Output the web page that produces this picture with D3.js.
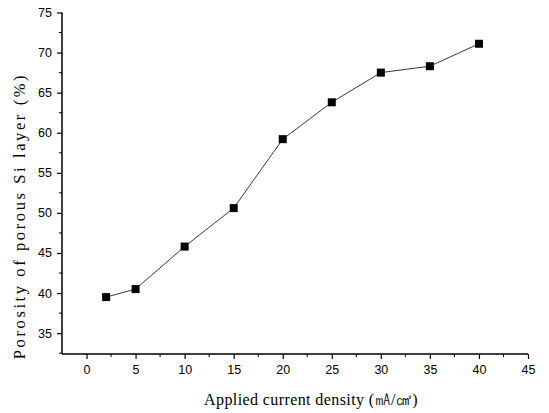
<!DOCTYPE html>
<html><head><meta charset="utf-8">
<script src="https://cdn.jsdelivr.net/npm/d3@7"></script>
<style>body{margin:0;background:#fff}svg{display:block}</style>
</head><body>
<svg id="c" width="549" height="413"></svg>
<script>
const currentDensity = [2, 5, 10, 15, 20, 25, 30, 35, 40];
const porosity = [39.5, 40.5, 45.8, 50.6, 59.2, 63.8, 67.5, 68.3, 71.1];
const xTicks = [0, 5, 10, 15, 20, 25, 30, 35, 40, 45];
const yTicks = [35, 40, 45, 50, 55, 60, 65, 70, 75];
const xLabel = "Applied current density (㎃/㎠)";
const yLabel = "Porosity of porous Si layer (%)";

const svg = d3.select("#c");
const x = d3.scaleLinear().domain([-2.5, 45]).range([62, 528]);
const y = d3.scaleLinear().domain([32.4, 75]).range([354, 12.5]);

const xMinor = d3.range(-2.5, 45.01, 2.5).filter(v => !xTicks.includes(v) && v > -2.5);
const yMinor = d3.range(32.5, 75.01, 2.5).filter(v => !yTicks.includes(v));

const gx = svg.append("g").attr("transform", "translate(0,354)")
  .call(d3.axisBottom(x).tickValues(xTicks).tickSize(5).tickPadding(6).tickFormat(d3.format("d")));
gx.append("g").selectAll("line").data(xMinor).join("line")
  .attr("x1", d => x(d)).attr("x2", d => x(d)).attr("y1", 0).attr("y2", 3).attr("stroke", "#000");
const gy = svg.append("g").attr("transform", "translate(62,0)")
  .call(d3.axisLeft(y).tickValues(yTicks).tickSize(5).tickPadding(5).tickFormat(d3.format("d")));
gy.append("g").selectAll("line").data(yMinor).join("line")
  .attr("y1", d => y(d)).attr("y2", d => y(d)).attr("x1", 0).attr("x2", -3).attr("stroke", "#000");
[gx, gy].forEach(g => {
  g.select(".domain").attr("stroke", "#000").attr("stroke-width", 1.5);
  g.selectAll(".tick line").attr("stroke", "#000").attr("stroke-width", 1.2);
  g.selectAll("text").attr("font-family", "Liberation Sans, Arial, sans-serif").attr("font-size", 12.5).attr("fill", "#000");
});
gx.select(".domain").attr("d", `M${x(-2.5)},0H${x(45)}`);
gy.select(".domain").attr("d", `M0,${y(32.4)}V${y(75)}`);

const line = d3.line().x((d, i) => x(currentDensity[i])).y(d => y(d));
svg.append("path").datum(porosity).attr("d", line)
  .attr("fill", "none").attr("stroke", "#222").attr("stroke-width", 0.9);
svg.append("g").selectAll("rect").data(porosity).join("rect")
  .attr("x", (d, i) => x(currentDensity[i]) - 4).attr("y", d => y(d) - 4)
  .attr("width", 8).attr("height", 8).attr("fill", "#000");

svg.append("text").attr("x", 311).attr("y", 405).attr("text-anchor", "middle")
  .attr("font-family", "Liberation Serif, Times New Roman, serif").attr("font-size", 16)
  .attr("letter-spacing", 0.4)
  .text(xLabel);
svg.append("text").attr("transform", "translate(25,216) rotate(-90)").attr("text-anchor", "middle")
  .attr("font-family", "Liberation Serif, Times New Roman, serif").attr("font-size", 16.5)
  .attr("letter-spacing", 2.6)
  .text(yLabel);
</script>
</body></html>
